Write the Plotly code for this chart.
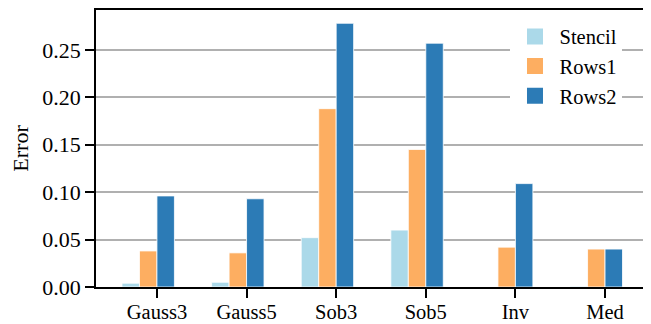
import plotly.graph_objects as go

categories = ["Gauss3", "Gauss5", "Sob3", "Sob5", "Inv", "Med"]
stencil = [0.004, 0.005, 0.052, 0.060, 0.0, 0.0008]
rows1 = [0.038, 0.036, 0.188, 0.145, 0.042, 0.040]
rows2 = [0.096, 0.093, 0.278, 0.257, 0.109, 0.040]
series_names = ["Stencil", "Rows1", "Rows2"]
colors = ["#abd9e9", "#fdae61", "#2c7bb6"]
yticks = [0.0, 0.05, 0.10, 0.15, 0.20, 0.25]

pos = list(range(len(categories)))
w = 0.195
offsets = [-2 * w, -w, 0.0]

fig = go.Figure()
for name, vals, col, off in zip(series_names, [stencil, rows1, rows2], colors, offsets):
    fig.add_trace(go.Bar(
        x=pos, y=vals, name=name, width=w, offset=off, showlegend=False,
        marker=dict(color=col, line=dict(color="white", width=0.8)),
    ))
# legend proxies (square swatches)
for name, col in zip(series_names, colors):
    fig.add_trace(go.Scatter(
        x=[None], y=[None], mode="markers", name=name, legendgroup=name,
        marker=dict(symbol="square", size=16, color=col),
    ))

font = "Liberation Serif, Times New Roman, serif"
fs = 20.5
fs_y = 22
# the page body adds an 8px offset, so the figure is drawn 8px smaller
fig.update_layout(
    width=643, height=316,
    margin=dict(l=88, r=6, t=2, b=37, autoexpand=False),
    paper_bgcolor="white", plot_bgcolor="white",
    font=dict(family=font, size=fs, color="black"),
    barmode="overlay",
    showlegend=True,
    legend=dict(
        x=0.755, y=0.976, xanchor="left", yanchor="top",
        bgcolor="white", borderwidth=0,
        font=dict(family=font, size=fs),
        itemwidth=39, tracegroupgap=2, traceorder="normal",
    ),
    xaxis=dict(
        range=[-0.68, 5.446], automargin=False,
        tickmode="array", tickvals=pos, ticktext=categories,
        ticks="outside", ticklen=9, tickwidth=1.5, tickcolor="black",
        showline=True, linecolor="black", linewidth=1.5, mirror=True,
        showgrid=False, zeroline=False, ticklabelstandoff=-3,
        tickfont=dict(family=font, size=fs),
    ),
    yaxis=dict(
        range=[0, 0.292], automargin=False,
        tickmode="array", tickvals=yticks, ticktext=[f"{v:.2f}" for v in yticks],
        ticks="outside", ticklen=9, tickwidth=1.5, tickcolor="black",
        showline=True, linecolor="black", linewidth=1.5, mirror=True,
        showgrid=True, gridcolor="#b0b0b0", gridwidth=1.8, zeroline=False,
        title=dict(text="Error", font=dict(family=font, size=fs_y), standoff=8),
        tickfont=dict(family=font, size=fs_y),
    ),
)

fig.write_html("out.html")
